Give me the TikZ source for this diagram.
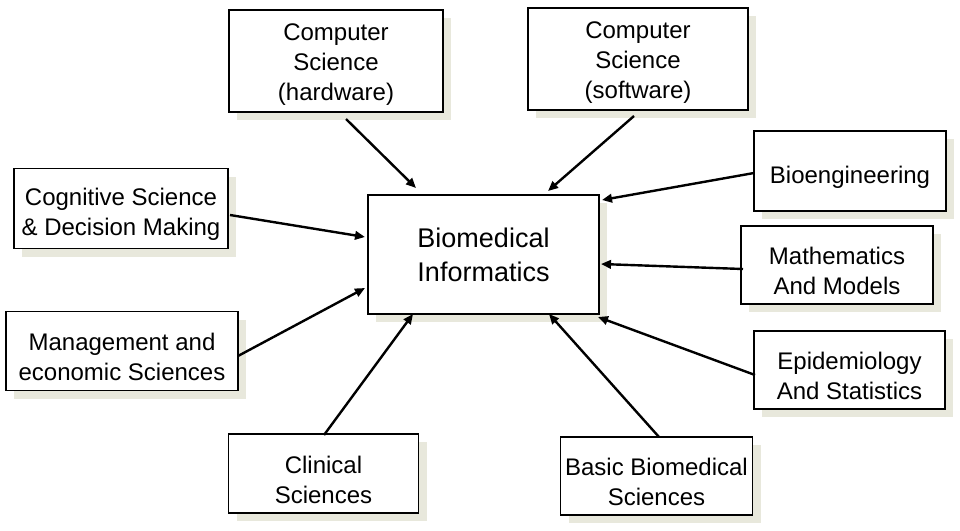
\documentclass[tikz,border=0pt]{standalone}
\usepackage{fontspec}
\setmainfont{Liberation Sans}
\usetikzlibrary{arrows.meta,shadows}
\definecolor{shadowc}{RGB}{232,232,220}
\newcommand\toplift[1][29.5pt]{\rule{0pt}{#1}}
\begin{document}
\begin{tikzpicture}[x=1pt,y=-1pt,
  box/.style={draw=black,line width=1.4pt,fill=white,rectangle,inner sep=0pt,align=center,
    font=\fontsize{24}{30}\selectfont,
    drop shadow={shadow xshift=8pt,shadow yshift=-8pt,fill=shadowc,opacity=1}},
  arr/.style={line width=2.4pt,-{Triangle[length=10pt,width=8.5pt]}}]
\useasboundingbox (0,0) rectangle (960,530);
\node[box,minimum width=214pt,minimum height=102pt] (hw) at (336,61) {\toplift[23.5pt]Computer\\Science\\(hardware)};
\node[box,minimum width=220pt,minimum height=102pt] (sw) at (638,59) {\toplift[23.5pt]Computer\\Science\\(software)};
\node[box,minimum width=192pt,minimum height=80pt] (bio) at (850,171) {\toplift[29pt]Bioengineering};
\node[box,minimum width=214pt,minimum height=80pt] (cog) at (121,208.5) {\toplift Cognitive Science\\\& Decision Making};
\node[box,minimum width=231pt,minimum height=119pt,font=\fontsize{27}{34}\selectfont] (bmi) at (483.5,254.5) {Biomedical\\Informatics};
\node[box,minimum width=192pt,minimum height=78pt] (math) at (837,265) {\toplift Mathematics\\And Models};
\node[box,minimum width=232pt,minimum height=79pt] (mgmt) at (122,351) {\toplift Management and\\economic Sciences};
\node[box,minimum width=191pt,minimum height=78pt] (epi) at (849.5,370) {\toplift Epidemiology\\And Statistics};
\node[box,minimum width=190pt,minimum height=79pt] (clin) at (323.5,473.5) {\toplift Clinical\\Sciences};
\node[box,minimum width=192pt,minimum height=78pt] (basic) at (656.5,476) {\toplift Basic Biomedical\\Sciences};
% connector ends
\coordinate (hwT) at (346,119);   \coordinate (hwH) at (416,188);
\coordinate (swT) at (634,116);   \coordinate (swH) at (548,191);
\coordinate (bioT) at (754,173);  \coordinate (bioH) at (602,200);
\coordinate (cogT) at (230,215);  \coordinate (cogH) at (365,237);
\coordinate (mathT) at (743,269); \coordinate (mathH) at (601,264);
\coordinate (mgmtT) at (238,356); \coordinate (mgmtH) at (365,288);
\coordinate (epiT) at (755,375);  \coordinate (epiH) at (598,317);
\coordinate (clinT) at (324,435); \coordinate (clinH) at (413,314);
\coordinate (basicT) at (659,437);\coordinate (basicH) at (549,314);
\draw[arr] (hwT) -- (hwH);
\draw[arr] (swT) -- (swH);
\draw[arr] (bioT) -- (bioH);
\draw[arr] (cogT) -- (cogH);
\draw[arr] (mathT) -- (mathH);
\draw[arr] (mgmtT) -- (mgmtH);
\draw[arr] (epiT) -- (epiH);
\draw[arr] (clinT) -- (clinH);
\draw[arr] (basicT) -- (basicH);
\end{tikzpicture}
\end{document}
